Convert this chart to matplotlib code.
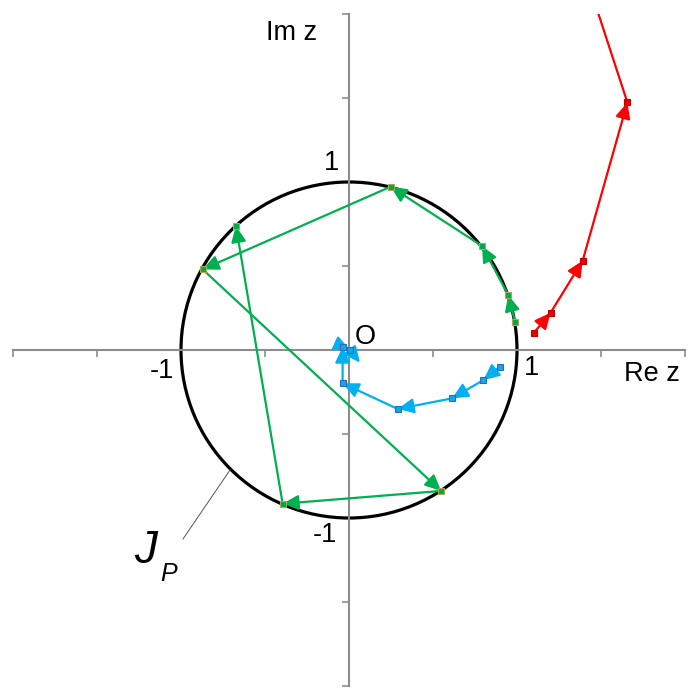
import matplotlib.pyplot as plt
from matplotlib.patches import Circle

plt.rcParams['font.family'] = ['Liberation Sans', 'DejaVu Sans']

# orbits (z -> z^2)
blue_x = [0.899, 0.800, 0.613, 0.290, -0.038, -0.038, 0.006]
blue_y = [-0.099, -0.179, -0.288, -0.351, -0.198, 0.020, 0.000]
blue_end = (0.065, -0.075)   # last arrow, no marker

green_x = [0.988, 0.948, 0.792, 0.248, -0.871, 0.548, -0.395, -0.673]
green_y = [0.168, 0.327, 0.619, 0.972, 0.480, -0.839, -0.915, 0.738]

red_x = [1.101, 1.200, 1.391, 1.657]
red_y = [0.103, 0.222, 0.532, 1.474]
red_exit = (1.485, 2.0)      # leaves the plot, no arrow drawn

ticks = [-2, -1.5, -1, -0.5, 0, 0.5, 1, 1.5, 2]

W = 699
fig = plt.figure(figsize=(6.99, 6.99), dpi=100)
ax = fig.add_axes([13 / W, 13 / W, 672 / W, 672 / W])
ax.set_xlim(-2, 2)
ax.set_ylim(-2, 2)

gray = '#8c8c8c'
for s in ['top', 'right']:
    ax.spines[s].set_visible(False)
for s in ['left', 'bottom']:
    ax.spines[s].set_position('zero')
    ax.spines[s].set_color(gray)
    ax.spines[s].set_linewidth(1.5)
ax.set_xticks(ticks)
ax.set_yticks(ticks)
ax.set_xticklabels([])
ax.set_yticklabels([])
ax.tick_params(direction='out', length=5, width=1.2, color=gray)

ax.add_patch(Circle((0, 0), 1, fill=False, lw=2.3, color='black', zorder=2))


def orbit(xs, ys, color, mfc, mec, end=None):
    pts = list(zip(xs, ys))
    if end is not None:
        pts.append(end)
    for (x0, y0), (x1, y1) in zip(pts[:-1], pts[1:]):
        ax.annotate('', xy=(x1, y1), xytext=(x0, y0),
                    arrowprops=dict(arrowstyle='-|>,head_length=0.6,head_width=0.28',
                                    color=color, lw=1.6, shrinkA=0, shrinkB=0,
                                    mutation_scale=16),
                    zorder=3)
    ax.plot(xs, ys, ls='none', marker='s', ms=5, mfc=mfc, mec=mec,
            mew=0.8, zorder=4)


orbit(blue_x, blue_y, '#00b0f0', '#1aa3e8', '#2a6fb5', blue_end)
orbit(green_x, green_y, '#00b050', '#00a84a', '#a8a850')
orbit(red_x, red_y, '#ff0000', '#ee0000', '#c00000')
ax.plot([red_x[-1], red_exit[0]], [red_y[-1], red_exit[1]],
        color='#ff0000', lw=1.6, zorder=3)


def px(x, y):
    return (x - 349) / 168, (350 - y) / 168


fs = 19.5
labels = [('Im z', 292, 33), ('Re z', 652, 374), ('-1', 162, 371),
          ('1', 332, 163), ('-1', 325, 535), ('1', 532, 368), ('O', 365, 337)]
for t, x, y in labels:
    ax.text(*px(x, y), t, fontsize=fs, ha='center', va='center')

ax.text(*px(146, 551), 'J', fontsize=33, style='italic', ha='center', va='center')
ax.text(*px(169, 574), 'P', fontsize=18, style='italic', ha='center', va='center')
lx0, ly0 = px(183, 539)
lx1, ly1 = px(230, 470)
ax.plot([lx0, lx1], [ly0, ly1], color='#555555', lw=0.7)

fig.savefig('out.png', dpi=100)
